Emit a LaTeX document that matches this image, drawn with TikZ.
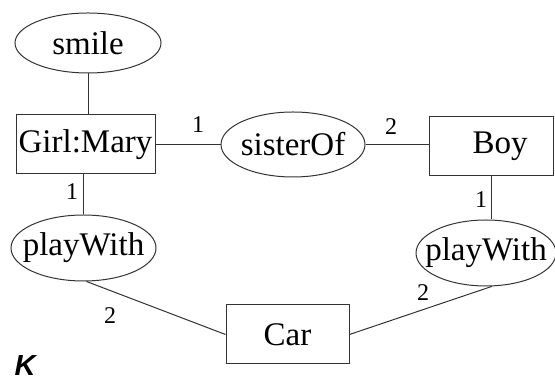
\documentclass[tikz,border=0pt]{standalone}
\usepackage{fontspec}
\setmainfont{Liberation Serif}
\newfontfamily\ksans{Liberation Sans}
\usetikzlibrary{shapes,positioning}

\begin{document}
\begin{tikzpicture}[x=0.5pt, y=-0.5pt, line width=0.5pt, draw=black!80,
    font=\fontsize{16.5}{19}\selectfont,
    entity/.style={rectangle, draw, inner sep=0pt, minimum width=#1, minimum height=29.5pt},
    rel/.style={ellipse, draw, inner sep=0pt, minimum width=#1, minimum height=33pt},
    num/.style={font=\fontsize{12}{14}\selectfont, inner sep=0pt}]
    \useasboundingbox (0,0) rectangle (555,383);

    \node [rel=73pt, minimum height=30pt, label=center:smile] (smile) at (88,43) {};
    \node [entity=69.5pt] (girl) at (85.5,144.5) {Girl:Mary};
    \node [rel=72pt, minimum height=32.5pt, label=center:sisterOf] (sister) at (293,144.5) {};
    \node [entity=62pt] (boy) at (491,146.5) {\hspace{9pt}Boy};
    \node [rel=72.5pt, label=center:playWith] (play1) at (83.5,248) {};
    \node [rel=70pt, label=center:playWith] (play2) at (486,253) {};
    \node [entity=61.5pt] (car) at (287.5,334.5) {Car};

    \node [num] (n1) at (198,125) {1};
    \node [num] (n2) at (391,127) {2};
    \node [num] (n3) at (72,192) {1};
    \node [num] (n4) at (481,200) {1};
    \node [num] (n5) at (110,316) {2};
    \node [num] (n6) at (423,293) {2};
    \node [font=\ksans\bfseries\itshape\fontsize{14.5}{17}\selectfont, inner sep=0pt] (tag) at (25,366) {K};

    \draw (smile.south) -- (smile.south |- girl.north);
    \draw (girl) -- (sister);
    \draw (sister.east) -- (sister.east -| boy.west);
    \draw (play1.north) -- (play1.north |- girl.south);
    \draw (boy.south) -- (boy.south |- play2.north);
    \draw (play1.-85) -- (car.west);
    \draw (car.east) -- (play2.-80);
\end{tikzpicture}
\end{document}
